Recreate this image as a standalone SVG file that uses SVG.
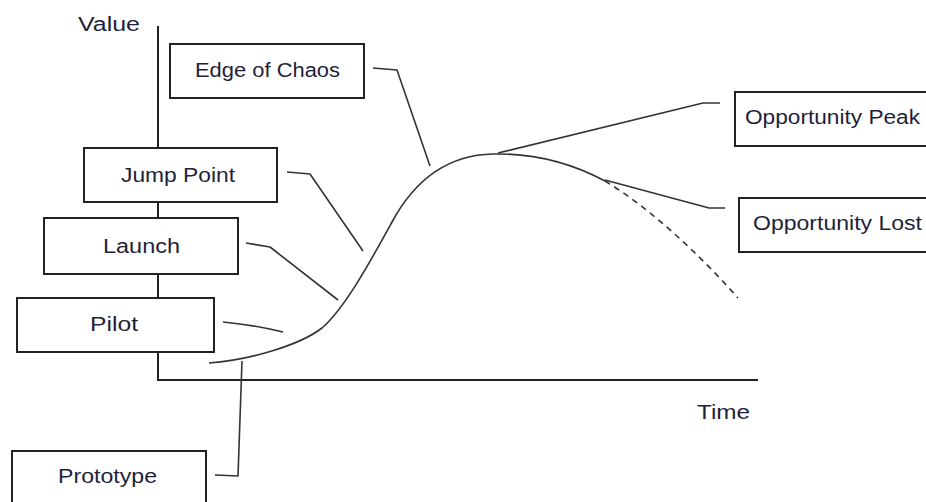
<svg xmlns="http://www.w3.org/2000/svg" width="926" height="502" viewBox="0 0 926 502">
  <style>
    .box { fill: #ffffff; stroke: #222222; stroke-width: 2; }
    .lbl { font-family: "Liberation Sans", Arial, sans-serif; font-size: 20px; fill: #1f1f3a; }
    .axis { fill: none; stroke: #222222; stroke-width: 2; }
    .wire { fill: none; stroke: #333333; stroke-width: 1.6; stroke-linejoin: round; }
    .curve { fill: none; stroke: #333333; stroke-width: 1.6; }
    .dash { fill: none; stroke: #333333; stroke-width: 1.6; stroke-dasharray: 6 5; }
  </style>
  <rect width="926" height="502" fill="#ffffff"/>

  <!-- axes -->
  <g id="axes">
    <polyline class="axis" points="158,26 158,380 758,380"/>
    <text class="lbl" x="78" y="31" textLength="62" lengthAdjust="spacingAndGlyphs">Value</text>
    <text class="lbl" x="697" y="419" textLength="53" lengthAdjust="spacingAndGlyphs">Time</text>
  </g>

  <!-- value curve -->
  <g id="curve">
    <path class="curve" d="M209,363 C250,360 300,345 322,328 C345,308 370,262 392,222 C412,185 442,155 493,154 C540,153 575,165 605,181"/>
    <path class="dash" d="M605,181 C650,208 700,255 738,298"/>
  </g>

  <!-- callout connectors -->
  <g id="connectors">
    <polyline class="wire" points="373,68 397,70 430,166"/>
    <polyline class="wire" points="287,172 310,174 363,251"/>
    <polyline class="wire" points="246,243 270,247 338,300"/>
    <path class="wire" d="M223,322 Q255,325 283,332"/>
    <polyline class="wire" points="215,475 238,476 242,361"/>
    <polyline class="wire" points="498,153 703,103 720,103"/>
    <polyline class="wire" points="605,180 709,208 725,208"/>
  </g>

  <g id="edge-of-chaos">
    <rect class="box" x="170" y="44" width="194" height="54"/>
    <text class="lbl" x="195" y="77" textLength="145" lengthAdjust="spacingAndGlyphs">Edge of Chaos</text>
  </g>

  <g id="jump-point">
    <rect class="box" x="84" y="148" width="193" height="54"/>
    <text class="lbl" x="121" y="182" textLength="114" lengthAdjust="spacingAndGlyphs">Jump Point</text>
  </g>

  <g id="launch">
    <rect class="box" x="44" y="218" width="194" height="56"/>
    <text class="lbl" x="103" y="253" textLength="77" lengthAdjust="spacingAndGlyphs">Launch</text>
  </g>

  <g id="pilot">
    <rect class="box" x="17" y="298" width="197" height="54"/>
    <text class="lbl" x="90" y="331" textLength="48" lengthAdjust="spacingAndGlyphs">Pilot</text>
  </g>

  <g id="prototype">
    <rect class="box" x="12" y="451" width="194" height="60"/>
    <text class="lbl" x="58" y="483" textLength="99" lengthAdjust="spacingAndGlyphs">Prototype</text>
  </g>

  <g id="opportunity-peak">
    <rect class="box" x="735" y="92" width="200" height="54"/>
    <text class="lbl" x="745" y="124" textLength="175" lengthAdjust="spacingAndGlyphs">Opportunity Peak</text>
  </g>

  <g id="opportunity-lost">
    <rect class="box" x="739" y="198" width="200" height="54"/>
    <text class="lbl" x="753" y="230" textLength="169" lengthAdjust="spacingAndGlyphs">Opportunity Lost</text>
  </g>
</svg>
